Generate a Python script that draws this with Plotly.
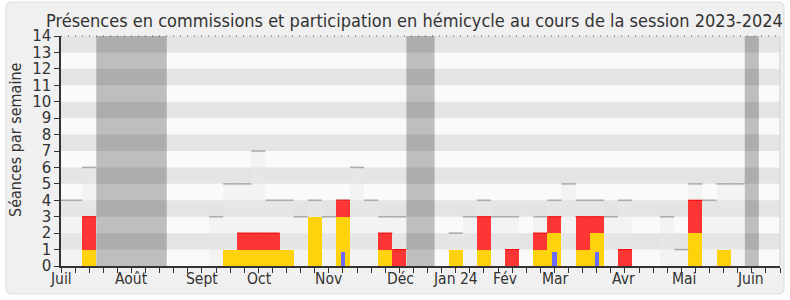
import plotly.graph_objects as go

# ---- data (week index 0..50, session 2023-2024) ----
weeks = list(range(0, 51))
# grey: weekly presence reference level (None = no data)
grey = [4, 4, 6, None, None, None, None, None, None, None, None, 3, 5, 5, 7, 4, 4, 3, 4, 3,
        4, 6, 4, 3, 3, None, None, None, 2, 3, 4, 3, 3, None, 3, 4, 5, 4, 4, 3,
        4, None, None, 3, 1, 5, 4, 5, 5, None, None]
yellow = [0, 0, 1, 0, 0, 0, 0, 0, 0, 0, 0, 0, 1, 1, 1, 1, 1, 0, 3, 0,
          3, 0, 0, 1, 0, 0, 0, 0, 1, 0, 1, 0, 0, 0, 1, 2, 0, 1, 2, 0,
          0, 0, 0, 0, 0, 2, 0, 1, 0, 0, 0]
red = [0, 0, 2, 0, 0, 0, 0, 0, 0, 0, 0, 0, 0, 1, 1, 1, 0, 0, 0, 0,
       1, 0, 0, 1, 1, 0, 0, 0, 0, 0, 2, 0, 1, 0, 1, 1, 0, 2, 1, 0,
       1, 0, 0, 0, 0, 2, 0, 0, 0, 0, 0]
blue = [0, 0, 0, 0, 0, 0, 0, 0, 0, 0, 0, 0, 0, 0, 0, 0, 0, 0, 0, 0,
        0.85, 0, 0, 0, 0, 0, 0, 0, 0, 0, 0, 0, 0, 0, 0, 0.85, 0, 0, 0.85, 0,
        0, 0, 0, 0, 0, 0, 0, 0, 0, 0, 0]
vacations = [(3, 7), (25, 26), (49, 49)]  # first, last week
month_labels = ["Juil", "Août", "Sept", "Oct", "Nov", "Déc", "Jan 24", "Fév", "Mar", "Avr", "Mai", "Juin"]
month_pos = [0, 5, 10, 14.1, 19, 24.1, 28, 31.5, 35.1, 39.9, 44.2, 48.9]

FONT = "DejaVu Sans Condensed, DejaVu Sans, sans-serif"
FONT_REG = "DejaVu Sans, sans-serif"
TXT = "#333333"

W, H = 790, 300
L, R, T, B = 61, 10, 36, 34
pw, ph = W - L - R, H - T - B


def px2paper(x, y):
    return (x - L) / pw, (H - B - y) / ph


fig = go.Figure()

# grey reference bars
gx = [w for w, g in zip(weeks, grey) if g is not None]
gy = [g for g in grey if g is not None]
fig.add_trace(go.Bar(x=gx, y=gy, width=1, marker=dict(color="rgba(232,232,232,0.4)", line=dict(width=0)),
                     hoverinfo="skip", showlegend=False))
lx, ly = [], []
for w, g in zip(gx, gy):
    lx += [w - 0.5, w + 0.5, None]
    ly += [g, g, None]
fig.add_trace(go.Scatter(x=lx, y=ly, mode="lines", line=dict(color="#acacac", width=1.6),
                         hoverinfo="skip", showlegend=False))

# yellow + red stacked
fig.add_trace(go.Bar(x=weeks, y=yellow, width=1, marker=dict(color="#ffd30c", line=dict(width=0)),
                     showlegend=False))
fig.add_trace(go.Bar(x=weeks, y=red, base=yellow, width=1, marker=dict(color="#fd3535", line=dict(width=0)),
                     showlegend=False))
rx, ry = [], []
for w, yv, rv in zip(weeks, yellow, red):
    if rv > 0:
        rx += [w - 0.5, w + 0.5, None]
        ry += [yv + rv, yv + rv, None]
fig.add_trace(go.Scatter(x=rx, y=ry, mode="lines", line=dict(color="#f21010", width=1.2),
                         hoverinfo="skip", showlegend=False))
fig.add_trace(go.Bar(x=weeks, y=blue, width=0.3, marker=dict(color="#6a6aff", line=dict(width=0)),
                     showlegend=False))

shapes = []
# outer rounded frame
x0, y0 = px2paper(6, 2)
x1, y1 = px2paper(784, 294)
rx_ = 5 / pw
ry_ = 5 / ph
path = (f"M {x0+rx_},{y0} L {x1-rx_},{y0} Q {x1},{y0} {x1},{y0-ry_} "
        f"L {x1},{y1+ry_} Q {x1},{y1} {x1-rx_},{y1} L {x0+rx_},{y1} Q {x0},{y1} {x0},{y1+ry_} "
        f"L {x0},{y0-ry_} Q {x0},{y0} {x0+rx_},{y0} Z")
shapes.append(dict(type="path", path=path, xref="paper", yref="paper", fillcolor="#f0f0f0",
                   line=dict(color="#dcdcdc", width=1), layer="below"))
shapes.append(dict(type="rect", xref="paper", yref="paper", x0=0, x1=1, y0=0, y1=1,
                   fillcolor="#fafafa", line=dict(width=0), layer="below"))
for a, b in vacations:
    shapes.append(dict(type="rect", xref="x", yref="paper", x0=a - 0.5, x1=b + 0.5, y0=0, y1=1,
                       fillcolor="#bebebe", line=dict(width=0), layer="below"))
for k in range(1, 14, 2):
    shapes.append(dict(type="rect", xref="paper", yref="y", x0=0, x1=1, y0=k, y1=k + 1,
                       fillcolor="rgba(0,0,0,0.085)", line=dict(width=0), layer="below"))
# top dotted edge and right border
shapes.append(dict(type="line", xref="paper", yref="paper", x0=0, x1=1, y0=1, y1=1,
                   line=dict(color="#555555", width=1, dash="1px,6px"), layer="above"))
shapes.append(dict(type="line", xref="paper", yref="paper", x0=1, x1=1, y0=0, y1=1,
                   line=dict(color="#cfcfcf", width=1), layer="above"))

annotations = []
for lab, pos in zip(month_labels, month_pos):
    annotations.append(dict(x=pos, y=0, xref="x", yref="paper", text=lab, showarrow=False,
                            yanchor="top", xanchor="center", yshift=-2,
                            font=dict(family=FONT, size=15.5, color=TXT)))
tx, _ = px2paper(414, 0)
_, ty = px2paper(0, 21)
annotations.append(dict(x=tx, y=ty, xref="paper", yref="paper", showarrow=False,
                        text="Présences en commissions et participation en hémicycle au cours de la session 2023-2024",
                        xanchor="center", yanchor="middle", font=dict(family=FONT, size=18, color=TXT)))
ax_, _ = px2paper(15, 0)
_, ay_ = px2paper(0, 140)
annotations.append(dict(x=ax_, y=ay_, xref="paper", yref="paper", showarrow=False, textangle=-90,
                        text="Séances par semaine", xanchor="center", yanchor="middle",
                        font=dict(family=FONT, size=16, color=TXT)))

fig.update_layout(
    width=W, height=H, margin=dict(l=L, r=R, t=T, b=B),
    paper_bgcolor="white", plot_bgcolor="rgba(0,0,0,0)",
    barmode="overlay", bargap=0, showlegend=False,
    shapes=shapes, annotations=annotations,
    font=dict(family=FONT, color=TXT),
    xaxis=dict(range=[0, 51], tickvals=list(range(0, 52)), ticktext=[""] * 52, ticks="outside",
               ticklen=5, tickcolor="#333333", tickwidth=1.3, showgrid=False, zeroline=False,
               showline=True, linecolor="#333333", linewidth=1.5, fixedrange=True),
    yaxis=dict(range=[0, 14], dtick=1, ticks="outside", ticklen=5, tickcolor="#333333", tickwidth=1.3,
               showgrid=False, zeroline=False, showline=True, linecolor="#333333", linewidth=1.5,
               tickfont=dict(family=FONT_REG, size=15, color=TXT),
               fixedrange=True),
)

fig.write_html("out.html")
